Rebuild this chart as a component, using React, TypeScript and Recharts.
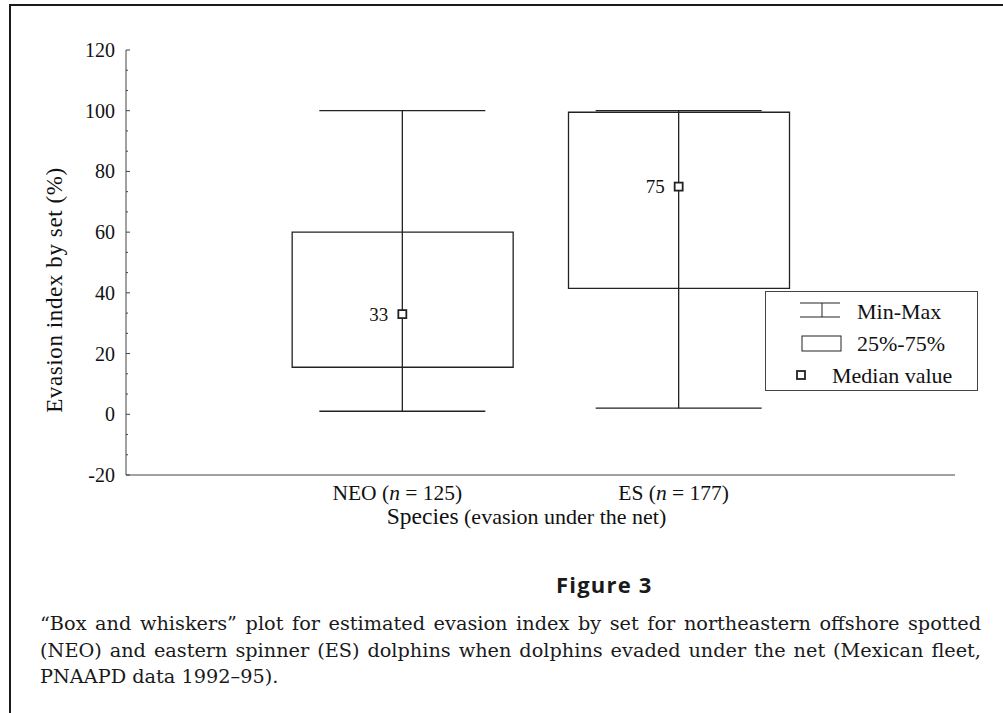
import { ComposedChart, Bar, Scatter, ErrorBar, XAxis, YAxis, Legend, Label } from "recharts";

const categories = ["NEO", "ES"];
const sampleSizes = [125, 177];
const xPositions = [1, 2];
const minValues = [1, 2];
const q1Values = [15.5, 41.5];
const medianValues = [33, 75];
const q3Values = [60, 99.5];
const maxValues = [100, 100];
const majorTicks = [-20, 0, 20, 40, 60, 80, 100, 120];
const yTicks = majorTicks.flatMap((t, i) => (i === 0 ? [t] : [t - 40 / 3, t - 20 / 3, t]));

const SERIF = '"Liberation Serif", "Times New Roman", serif';
const INK = "#222";

const data = categories.map((name, i) => ({
  name,
  n: sampleSizes[i],
  pos: xPositions[i],
  min: minValues[i],
  q1: q1Values[i],
  median: medianValues[i],
  q3: q3Values[i],
  max: maxValues[i],
}));

const YTick = (props: any) => {
  const { x, y, payload } = props;
  const v = payload.value;
  const major = majorTicks.includes(v);
  return (
    <g>
      <line x1={x + 11} x2={x + (major ? 15 : 13)} y1={y} y2={y} stroke="#444" strokeWidth={1} />
      {major && (
        <text x={x} y={y} dy="0.35em" textAnchor="end" fontFamily={SERIF} fontSize={20} fill="#111">
          {v}
        </text>
      )}
    </g>
  );
};

const XTick = (props: any) => {
  const { x, y, payload } = props;
  const i = xPositions.indexOf(payload.value);
  if (i < 0) return null;
  return (
    <text x={x - 5} y={y} dy="0.71em" textAnchor="middle" fontFamily={SERIF} fontSize={21.5} fill="#111">
      {categories[i]} (<tspan fontStyle="italic">n</tspan> = {sampleSizes[i]})
    </text>
  );
};

const XTitle = (props: any) => {
  const { viewBox } = props;
  const cx = viewBox.x + viewBox.width / 2 - 14;
  return (
    <text x={cx} y={viewBox.y + 49} textAnchor="middle" fontFamily={SERIF} fill="#111">
      <tspan fontSize={23.5}>Species</tspan>
      <tspan fontSize={22}> (evasion under the net)</tspan>
    </text>
  );
};

const YTitle = () => (
  <text
    x={62}
    y={290}
    transform="rotate(-90 62 290)"
    textAnchor="middle"
    fontFamily={SERIF}
    fontSize={23}
    letterSpacing={0.6}
    fill="#111"
  >
    Evasion index by set (%)
  </text>
);

const MedianMark = (props: any) => {
  const { cx, cy, payload } = props;
  return (
    <g>
      <rect x={cx - 4} y={cy - 4} width={8} height={8} fill="#fff" stroke={INK} strokeWidth={1.8} />
      <text x={cx - 14} y={cy} dy="0.35em" textAnchor="end" fontFamily={SERIF} fontSize={19} fill="#111">
        {payload.median}
      </text>
    </g>
  );
};

const LegendBox = () => (
  <svg width={214} height={101} style={{ display: "block" }}>
    <rect x={0.5} y={0.5} width={212} height={99} fill="#fff" stroke="#444" strokeWidth={1} />
    <line x1={35} x2={75} y1={12} y2={12} stroke={INK} />
    <line x1={35} x2={75} y1={26} y2={26} stroke={INK} />
    <line x1={57} x2={57} y1={12} y2={26} stroke={INK} />
    <text x={92} y={28} fontFamily={SERIF} fontSize={22} fill="#111">Min-Max</text>
    <rect x={37} y={45} width={39} height={15} fill="#fff" stroke={INK} />
    <text x={92} y={60} fontFamily={SERIF} fontSize={22} fill="#111">25%-75%</text>
    <rect x={32} y={80} width={8} height={8} fill="#fff" stroke={INK} strokeWidth={1.8} />
    <text x={67} y={92} fontFamily={SERIF} fontSize={22} fill="#111">Median value</text>
  </svg>
);

const captionLines = [
  "“Box and whiskers” plot for estimated evasion index by set for northeastern offshore spotted",
  "(NEO) and eastern spinner (ES) dolphins when dolphins evaded under the net (Mexican fleet,",
  "PNAAPD data 1992–95).",
];

const App = () => {
  return (
    <div style={{ position: "absolute", left: 0, top: 0, width: 1003, height: 713, overflow: "hidden", background: "#fff" }}>
      <div
        style={{
          position: "absolute",
          left: 9,
          top: 4,
          width: 994,
          height: 709,
          boxSizing: "border-box",
          borderTop: "2px solid #1a1a1a",
          borderLeft: "2px solid #1a1a1a",
        }}
      />
      <div style={{ position: "absolute", left: 0, top: 0 }}>
        <ComposedChart width={1003} height={560} data={data} margin={{ top: 50, right: 48, left: 66, bottom: 15 }}>
          <XAxis
            type="number"
            dataKey="pos"
            domain={[0, 3]}
            ticks={xPositions}
            tickLine={false}
            tickSize={0}
            tickMargin={10}
            axisLine={{ stroke: "#444", strokeWidth: 1 }}
            tick={<XTick />}
            height={70}
          >
            <Label content={<XTitle />} />
          </XAxis>
          <YAxis
            type="number"
            domain={[-20, 120]}
            ticks={yTicks}
            interval={0}
            tickLine={false}
            tickSize={0}
            tickMargin={11}
            axisLine={{ stroke: "#444", strokeWidth: 1 }}
            tick={<YTick />}
            width={60}
          >
            <Label content={<YTitle />} />
          </YAxis>
          <Bar
            dataKey={(d: any) => [d.q1, d.q3]}
            barSize={221}
            fill="#fff"
            stroke={INK}
            strokeWidth={1.3}
            isAnimationActive={false}
          />
          <Scatter dataKey="median" shape={<MedianMark />} isAnimationActive={false}>
            <ErrorBar
              direction="y"
              dataKey={(d: any) => [d.median - d.min, d.max - d.median]}
              width={83}
              stroke={INK}
              strokeWidth={1.3}
              isAnimationActive={false}
            />
          </Scatter>
          <Legend
            layout="vertical"
            align="center"
            verticalAlign="middle"
            content={<LegendBox />}
            wrapperStyle={{ left: 765, top: 291, width: 214, height: 101 }}
          />
        </ComposedChart>
      </div>
      <div
        style={{
          position: "absolute",
          left: 556,
          top: 572,
          fontFamily: '"Open Sans", "Noto Sans", sans-serif',
          fontWeight: 700,
          fontSize: 22,
          letterSpacing: 1.2,
          lineHeight: "24px",
          color: "#1a1a1a",
        }}
      >
        Figure 3
      </div>
      <div
        style={{
          position: "absolute",
          left: 40,
          top: 611,
          width: 941,
          fontFamily: '"DejaVu Serif", serif',
          fontSize: 19.3,
          lineHeight: "26.7px",
          color: "#1a1a1a",
        }}
      >
        {captionLines.map((line, i) => (
          <div
            key={i}
            style={{
              textAlign: i < captionLines.length - 1 ? "justify" : "left",
              textAlignLast: i < captionLines.length - 1 ? "justify" : "left",
              whiteSpace: "nowrap",
            }}
          >
            {line}
          </div>
        ))}
      </div>
    </div>
  );
};

export default App;
